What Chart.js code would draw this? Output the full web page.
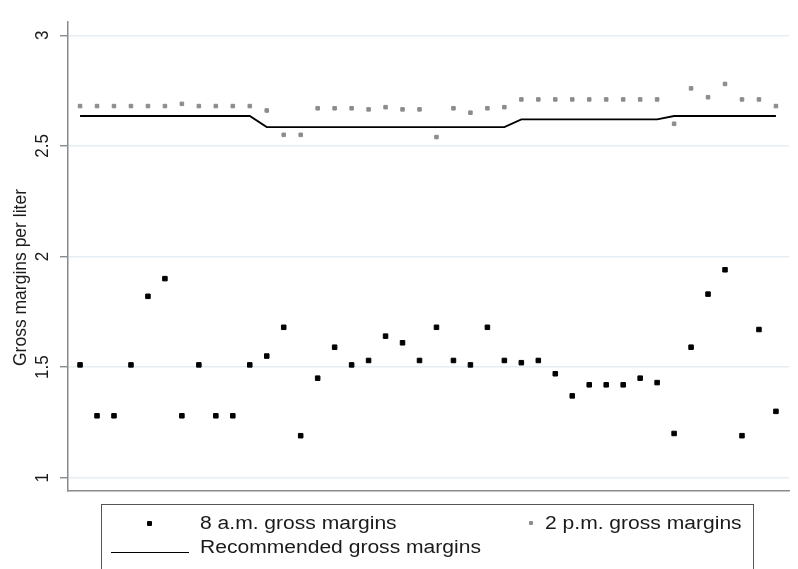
<!DOCTYPE html>
<html>
<head>
<meta charset="utf-8">
<script src="https://cdn.jsdelivr.net/npm/chart.js@4/dist/chart.umd.min.js"></script>
<style>
  html, body { margin: 0; padding: 0; background: #fff; }
  #wrap { position: relative; width: 798px; height: 569px; overflow: hidden; }
  #legend {
    position: absolute; left: 101px; top: 504px; width: 653px; height: 90px;
    border: 1px solid #555; box-sizing: border-box;
    font-family: "Liberation Sans", Arial, sans-serif; font-size: 18px; color: #1a1a1a;
  }
  #legend .txt { position: absolute; white-space: nowrap; transform: scaleX(1.17); transform-origin: left center; line-height: 20px; }
  #legend .mk { position: absolute; }
</style>
</head>
<body>
<div id="wrap">
  <canvas id="c"></canvas>
  <div id="legend">
    <span class="mk" style="left:45px;top:16px;width:5px;height:5px;background:#000;border-radius:1px"></span>
    <span class="txt" style="left:98px;top:8px">8 a.m. gross margins</span>
    <span class="mk" style="left:427px;top:16px;width:4px;height:4px;background:#8c8c8c;border-radius:1px"></span>
    <span class="txt" style="left:443px;top:8px">2 p.m. gross margins</span>
    <span class="mk" style="left:9px;top:47px;width:78px;height:0;border-top:1.5px solid #000"></span>
    <span class="txt" style="left:98px;top:32px">Recommended gross margins</span>
  </div>
</div>
<script>
// ==== Data ====
const am8 = [1.51,1.28,1.28,1.51,1.82,1.90,1.28,1.51,1.28,1.28,
             1.51,1.55,1.68,1.19,1.45,1.59,1.51,1.53,1.64,1.61,
             1.53,1.68,1.53,1.51,1.68,1.53,1.52,1.53,1.47,1.37,
             1.42,1.42,1.42,1.45,1.43,1.20,1.59,1.83,1.94,1.19,
             1.67,1.30];
const pm2 = [2.68,2.68,2.68,2.68,2.68,2.68,2.69,2.68,2.68,2.68,
             2.68,2.66,2.55,2.55,2.67,2.67,2.67,2.665,2.675,2.665,
             2.665,2.54,2.67,2.65,2.67,2.675,2.71,2.71,2.71,2.71,
             2.71,2.71,2.71,2.71,2.71,2.60,2.76,2.72,2.78,2.71,
             2.71,2.68];
const recommended = [2.635,2.635,2.635,2.635,2.635,2.635,2.635,2.635,2.635,2.635,
                     2.635,2.585,2.585,2.585,2.585,2.585,2.585,2.585,2.585,2.585,
                     2.585,2.585,2.585,2.585,2.585,2.585,2.62,2.62,2.62,2.62,
                     2.62,2.62,2.62,2.62,2.62,2.635,2.635,2.635,2.635,2.635,
                     2.635,2.635];
const yTicks = [1, 1.5, 2, 2.5, 3];
const yTickLabels = ["1", "1.5", "2", "2.5", "3"];
const yTitle = "Gross margins per liter";

const pts = (arr) => arr.map((v, i) => ({ x: i, y: v }));

// rotated y labels + title, drawn at the scale's own tick pixels
const yLabelsPlugin = {
  id: "yLabels",
  afterDraw(chart) {
    const ctx = chart.ctx, ys = chart.scales.y;
    ctx.save();
    ctx.fillStyle = "#1a1a1a";
    ctx.textAlign = "center";
    ctx.textBaseline = "middle";
    ctx.font = "17px 'Liberation Sans', Arial, sans-serif";
    yTicks.forEach((v, i) => {
      ctx.save();
      ctx.translate(43, ys.getPixelForValue(v));
      ctx.rotate(-Math.PI / 2);
      ctx.scale(1, 1.12);
      ctx.fillText(yTickLabels[i], 0, 0);
      ctx.restore();
    });
    ctx.font = "17.5px 'Liberation Sans', Arial, sans-serif";
    ctx.translate(21, (chart.chartArea.top + chart.chartArea.bottom) / 2 + 21);
    ctx.rotate(-Math.PI / 2);
    ctx.fillText(yTitle, 0, 0);
    ctx.restore();
  }
};

new Chart(document.getElementById("c"), {
  type: "scatter",
  data: {
    datasets: [
      { label: "8 a.m. gross margins", data: pts(am8), pointStyle: "rect",
        pointRadius: 3.2, backgroundColor: "#000", borderColor: "#000", borderWidth: 1 },
      { label: "2 p.m. gross margins", data: pts(pm2), pointStyle: "rect",
        pointRadius: 2.5, backgroundColor: "#8c8c8c", borderColor: "#8c8c8c", borderWidth: 1 },
      { label: "Recommended gross margins", data: pts(recommended), type: "line",
        showLine: true, tension: 0, pointRadius: 0, borderColor: "#000", borderWidth: 1.8, fill: false }
    ]
  },
  options: {
    responsive: true,
    maintainAspectRatio: false,
    animation: false,
    events: [],
    layout: { padding: { left: 0, top: 22, right: 9, bottom: 78 } },
    plugins: { legend: { display: false }, tooltip: { enabled: false } },
    scales: {
      x: {
        type: "linear", min: -0.71, max: 41.77,
        grid: { display: false },
        ticks: { display: false },
        border: { color: "#8a8a8a", width: 1.5 },
        afterFit(s) { s.height = 0; }
      },
      y: {
        type: "linear", min: 0.94, max: 3.06,
        afterBuildTicks(s) { s.ticks = yTicks.map(v => ({ value: v })); },
        ticks: { display: false },
        grid: { color: "#e6eef4", lineWidth: 1.5, tickColor: "#777", tickLength: 8, tickWidth: 1.2 },
        border: { color: "#8a8a8a", width: 1.5 },
        afterFit(s) { s.width = 68; }
      }
    }
  },
  plugins: [yLabelsPlugin]
});
</script>
</body>
</html>
